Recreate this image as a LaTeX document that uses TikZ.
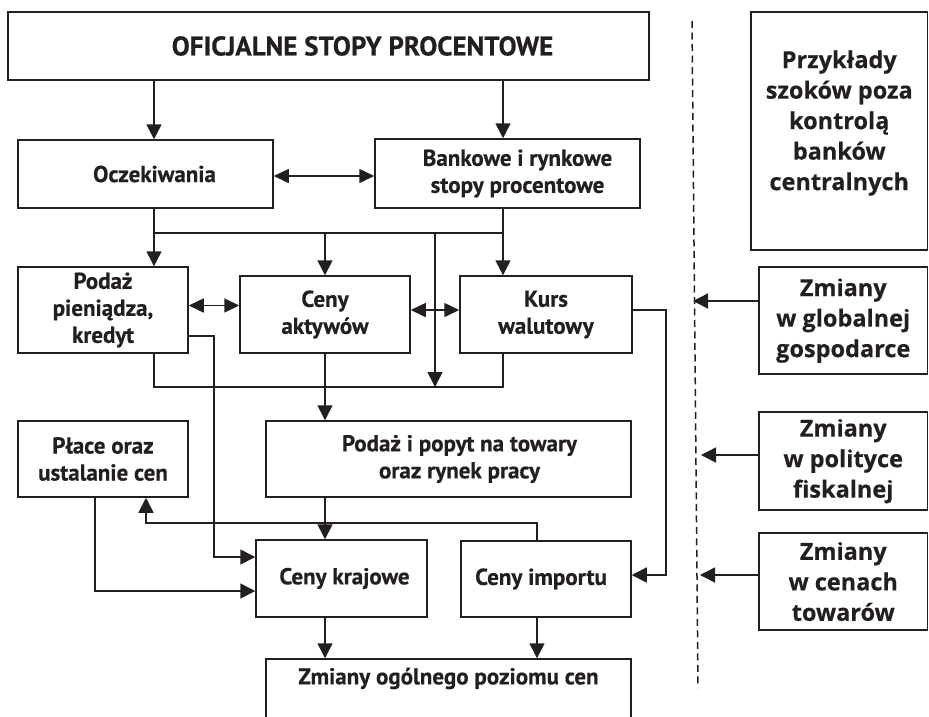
\documentclass[tikz,border=0pt]{standalone}
\usepackage{fontspec}
\setmainfont{PT Sans}[BoldFeatures={FakeBold=0.5}]
\newfontfamily\rightfam{Open Sans}[BoldFeatures={FakeBold=0.4}]
\usetikzlibrary{arrows.meta}
\definecolor{ink}{HTML}{231F20}
\begin{document}
\begin{tikzpicture}[x=1pt,y=-1pt,
  box/.style={draw=ink, line width=1.5pt, rectangle, inner sep=0pt, align=center,
    font=\bfseries\fontsize{23}{27}\selectfont, text=ink},
  rbox/.style={box, font=\rightfam\bfseries\fontsize{23.5}{30.5}\selectfont},
  lbl/.style={align=center, text=ink, inner sep=0pt},
  con/.style={draw=ink, line width=1.5pt},
  arr/.style={con, -{Triangle[length=15pt,width=15pt]}},
  darr/.style={con, {Triangle[length=15pt,width=14pt]}-{Triangle[length=15pt,width=14pt]}},
]
\useasboundingbox (0,0) rectangle (929,716);
\clip (0,0) rectangle (929,716);

% boxes
\node[box, minimum width=641pt, minimum height=68pt,
  label={[lbl, font=\bfseries\fontsize{27}{30}\selectfont, xshift=34pt]center:OFICJALNE STOPY PROCENTOWE}] (top) at (328.5,46) {};
\node[box, minimum width=255pt, minimum height=68pt] (ocz) at (145.5,174) {\hspace*{18pt}Oczekiwania};
\node[box, minimum width=265pt, minimum height=69pt] (bank) at (507.5,173.5) {\hspace*{20pt}Bankowe i rynkowe\\\hspace*{20pt}stopy procentowe};
\node[box, minimum width=170pt, minimum height=86pt] (podaz) at (103,310) {Podaż\\pieniądza,\\kredyt};
\node[box, minimum width=170pt, minimum height=77pt] (aktyw) at (325,314.5) {Ceny\\aktywów};
\node[box, minimum width=172pt, minimum height=77pt] (kurs) at (546,314.5) {Kurs\\walutowy};
\node[box, minimum width=170pt, minimum height=76pt] (place) at (103,459) {Płace oraz\\ustalanie cen};
\node[box, minimum width=365pt, minimum height=76pt] (popyt) at (448.5,459) {\hspace*{22pt}Podaż i popyt na towary\\\hspace*{22pt}oraz rynek pracy};
\node[box, minimum width=171pt, minimum height=77pt] (kraj) at (341.5,578.5) {\hspace*{6pt}Ceny krajowe};
\node[box, minimum width=170pt, minimum height=76pt] (imp) at (546,579) {Ceny importu\hspace*{10pt}};
\node[box, minimum width=365pt, minimum height=71pt,
  label={[lbl, font=\bfseries\fontsize{23}{27}\selectfont, yshift=16pt]center:Zmiany ogólnego poziomu cen}] (ogol) at (448.5,694.5) {};

\node[rbox, minimum width=176.5pt, minimum height=238pt,
  label={[lbl, font=\rightfam\bfseries\fontsize{23.5}{30.5}\selectfont, yshift=8pt]center:{Przykłady\\szoków poza\\kontrolą\\banków\\centralnych}}] (przyk) at (839.25,131) {};
\node[rbox, minimum width=168.5pt, minimum height=107pt] (glob) at (843.25,320.5) {Zmiany\\w globalnej\\gospodarce};
\node[rbox, minimum width=168.5pt, minimum height=98pt] (fisk) at (843.25,461) {Zmiany\\w polityce\\fiskalnej};
\node[rbox, minimum width=168.5pt, minimum height=97pt] (tow) at (843.25,581.5) {Zmiany\\w cenach\\towarów};

% reference columns and rows
\coordinate (xa) at (154,0);
\coordinate (xb) at (503,0);
\coordinate (xc) at (325,0);
\coordinate (xd) at (435,0);
\coordinate (xe) at (537,0);
\coordinate (xf) at (214,0);
\coordinate (xg) at (666,0);
\coordinate (xh) at (146,0);
\coordinate (xi) at (95,0);
\coordinate (ybr) at (0,233);
\coordinate (ybt) at (0,387);
\coordinate (ylp) at (0,523);
\coordinate (dtop) at (692,21);
\coordinate (dbot) at (698,688);

% connectors
\draw[arr] (top.south -| xa) -- (ocz.north -| xa);
\draw[arr] (top.south -| xb) -- (bank.north -| xb);
\draw[darr] ([yshift=-2pt]ocz.east) -- ([yshift=-2pt]ocz.east -| bank.west);
\draw[arr] (ocz.south -| xa) -- (podaz.north -| xa);
\draw[arr] (bank.south -| xb) -- (kurs.north -| xb);
\draw[con] (xa |- ybr) -- (xb |- ybr);
\draw[arr] (xc |- ybr) -- (aktyw.north -| xc);
\draw[arr] (xd |- ybr) -- (xd |- ybt);
\draw[darr] ([yshift=4.5pt]podaz.east) -- ([yshift=4.5pt]podaz.east -| aktyw.west);
\draw[darr] ([yshift=4.5pt]aktyw.east) -- ([yshift=4.5pt]aktyw.east -| kurs.west);
\draw[con] (podaz.south -| xa) -- (xa |- ybt) -- (xb |- ybt) -- (kurs.south -| xb);
\draw[arr] (aktyw.south -| xc) -- (popyt.north -| xc);
\draw[arr] ([yshift=-26pt]podaz.east) -- ([yshift=-26pt]podaz.east -| xf) -- (xf |- 0,557) -- (kraj.west |- 0,557);
\draw[arr] ([yshift=4.5pt]kurs.east) -- ([yshift=4.5pt]kurs.east -| xg) -- (xg |- 0,575) -- (imp.east |- 0,575);
\draw[arr] (popyt.south -| xc) -- (kraj.north -| xc);
\draw[arr] (imp.north -| xe) -- (xe |- ylp) -- (xh |- ylp) -- (place.south -| xh);
\draw[arr] (place.south -| xi) -- (xi |- 0,591) -- (kraj.west |- 0,591);
\draw[arr] (kraj.south -| xc) -- (ogol.north -| xc);
\draw[arr] (imp.south -| xe) -- (ogol.north -| xe);

\draw[ink, line width=1.5pt, dash pattern=on 7pt off 4.5pt] (dtop) -- (dbot);
\draw[arr] (glob.west |- 0,301) -- (693,301);
\draw[arr] (fisk.west |- 0,455) -- (701,455);
\draw[arr] (tow.west |- 0,575) -- (700,575);
\end{tikzpicture}
\end{document}
